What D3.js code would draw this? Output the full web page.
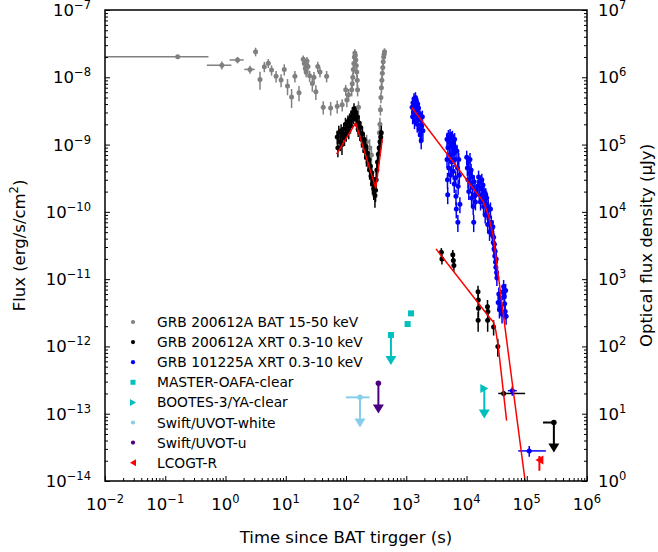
<!DOCTYPE html>
<html>
<head>
<meta charset="utf-8">
<script src="https://cdn.jsdelivr.net/npm/d3@7"></script>
<style>
  html, body { margin: 0; padding: 0; background: #fff; }
  svg { display: block; overflow: visible; }
</style>
</head>
<body>
<svg id="chart" width="658" height="552" viewBox="0 0 658 552" font-family="DejaVu Sans, sans-serif"></svg>
<script>
// GRB 200612A BAT 15-50 keV: [t, tErr, flux, fluxErr]
const batData = [
  [0.161, 0.36, 2.02e-8, 1.2e-9], [0.87, 0.38, 1.51e-8, 2.0e-9], [1.585, 0.42, 1.81e-8, 2.0e-9],
  [2.55, 0.51, 1.31e-8, 1.8e-9], [3.16, 0.23, 2.4e-8, 3.5e-9], [3.74, 0.23, 9.3e-9, 2.8e-9],
  [4.41, 0.28, 1.44e-8, 2.5e-9], [5.14, 0.32, 1.62e-8, 2.5e-9], [5.81, 0.32, 1.28e-8, 2.2e-9],
  [6.91, 0.41, 1.04e-8, 2e-9], [8.36, 0.46, 9.1e-9, 2e-9], [9.45, 0.55, 1.31e-8, 2.5e-9],
  [10.7, 0.64, 7.4e-9, 2e-9], [12.5, 0.73, 5.1e-9, 1.6e-9], [14.2, 0.82, 1.04e-8, 2e-9],
  [16.6, 0.91, 5.9e-9, 1.5e-9], [19.5, 0.55, 1.85e-8, 2.5e-9], [20.3, 0.45, 1.6e-8, 2.5e-9],
  [21.1, 0.45, 1.35e-8, 2.5e-9], [21.8, 0.45, 1.2e-8, 2e-9], [22.5, 0.45, 1.75e-8, 2.5e-9],
  [23.4, 0.55, 1.45e-8, 2e-9], [24.9, 0.72, 1.05e-8, 2e-9], [27.6, 0.9, 8.1e-9, 2e-9],
  [29.4, 0.9, 1.0e-8, 2e-9], [31.6, 1.1, 6.1e-9, 1.5e-9], [34.0, 1.1, 1.45e-8, 2.5e-9],
  [37.0, 1.35, 1.2e-8, 2e-9], [41.9, 1.8, 3.6e-9, 8e-10], [47.7, 2.25, 1.04e-8, 2e-9],
  [55.6, 2.7, 3.5e-9, 8e-10], [71.5, 3.6, 3.7e-9, 8e-10], [86.5, 3.6, 3.9e-9, 8e-10],
  [98.9, 2.7, 6.5e-9, 1.2e-9], [103.3, 2.7, 4.6e-9, 1e-9], [110.3, 2.7, 5.5e-9, 1.2e-9],
  [124.3, 1.3, 6.5e-9, 1.3e-9], [127.0, 1.3, 8e-9, 1.5e-9], [129.6, 1.3, 1.0e-8, 1.8e-9],
  [132.3, 1.3, 1.3e-8, 2e-9], [135.0, 1.3, 1.6e-8, 2.5e-9], [137.6, 1.3, 2.0e-8, 3e-9],
  [140.3, 1.3, 2.3e-8, 3e-9], [142.9, 1.3, 2.1e-8, 3e-9], [145.6, 1.3, 1.8e-8, 2.5e-9],
  [148.2, 1.3, 1.5e-8, 2.5e-9], [150.9, 1.3, 1.2e-8, 2e-9], [153.6, 1.3, 9e-9, 1.8e-9],
  [155.8, 1.3, 6.5e-9, 1.3e-9], [161.1, 1.8, 3.6e-9, 8e-10], [220, 2.6, 1.1e-9, 3e-10],
  [246.5, 2.6, 9e-10, 3e-10], [264, 2.6, 7e-10, 2.5e-10], [359, 1.8, 1.5e-9, 4e-10],
  [366, 1.8, 2.0e-9, 5e-10], [373, 1.8, 3.3e-9, 6e-10], [380, 1.8, 5e-9, 9e-10],
  [387, 1.8, 7e-9, 1.2e-9], [394, 1.8, 9e-9, 1.5e-9], [401, 1.8, 1.15e-8, 2e-9],
  [408, 1.8, 1.4e-8, 2.2e-9], [415, 1.8, 1.7e-8, 2.5e-9], [422, 1.8, 2.0e-8, 3e-9],
  [429, 1.8, 2.2e-8, 3e-9], [436, 1.8, 2.4e-8, 3e-9]
];

// GRB 200612A XRT 0.3-10 keV: [t, flux, fluxErr]
const xrtA = [
  [71.5, 1.3e-9, 3e-10], [73.3, 9e-10, 2.5e-10], [76.0, 1.5e-9, 4e-10], [80.4, 1.1e-9, 3e-10],
  [83.0, 1.6e-9, 4e-10], [85.7, 1.0e-9, 3e-10], [88.4, 1.4e-9, 3.5e-10], [91.8, 1.7e-9, 4e-10],
  [94.4, 1.25e-9, 3e-10], [98.0, 2.0e-9, 5e-10], [100.7, 1.45e-9, 3.5e-10], [104.2, 1.8e-9, 4.5e-10],
  [107.7, 2.2e-9, 5e-10], [111.2, 1.6e-9, 4e-10], [114.8, 2.4e-9, 5e-10], [118.3, 1.9e-9, 4.5e-10],
  [121.9, 2.6e-9, 6e-10], [125.2, 2.3e-9, 5e-10], [128.8, 3.0e-9, 6e-10], [132.3, 2.5e-9, 5e-10],
  [135.9, 3.4e-9, 7e-10], [139.4, 2.8e-9, 6e-10], [143.0, 3.1e-9, 6e-10], [146.5, 2.4e-9, 5e-10],
  [150.6, 2.0e-9, 4.5e-10], [155.0, 2.6e-9, 5.5e-10], [159.5, 1.7e-9, 4e-10], [164.8, 2.1e-9, 4.5e-10],
  [170.1, 1.5e-9, 3.5e-10], [175.4, 1.8e-9, 4e-10], [181.2, 1.2e-9, 3e-10], [187.4, 1.45e-9, 3.5e-10],
  [193.6, 1.0e-9, 2.5e-10], [199.8, 1.2e-9, 3e-10], [206.0, 8e-10, 2e-10], [211.7, 9.5e-10, 2.5e-10],
  [218.7, 6.5e-10, 1.8e-10], [225.8, 7.5e-10, 2e-10], [232.8, 5.5e-10, 1.5e-10], [239.9, 6e-10, 1.6e-10],
  [247.0, 4.2e-10, 1.2e-10], [253.4, 4.8e-10, 1.3e-10], [260.5, 3.4e-10, 1e-10], [267.5, 3.8e-10, 1.1e-10],
  [274.6, 2.6e-10, 8e-11], [281.6, 3e-10, 9e-11], [288.6, 2.2e-10, 7e-11], [295.3, 2.5e-10, 8e-11],
  [302.4, 1.75e-10, 6e-11], [309.4, 2.1e-10, 7e-11], [316.4, 3.0e-10, 9e-11], [325.2, 4.2e-10, 1.2e-10],
  [333.6, 5.5e-10, 1.5e-10], [344.2, 7.2e-10, 2e-10], [355.2, 9e-10, 2.5e-10], [366.6, 1.1e-9, 3e-10],
  [377.1, 1.3e-9, 3.5e-10], [385.4, 1.5e-9, 4e-10],
  [3825, 2.5e-11, 4e-12], [3910, 2.0e-11, 3.5e-12], [5920, 2.3e-11, 4e-12], [6050, 1.9e-11, 3.5e-12],
  [6175, 1.6e-11, 3e-12], [15530, 6.5e-12, 1.5e-12], [15700, 4.9e-12, 1.2e-12], [15780, 3.7e-12, 1e-12],
  [15610, 2.45e-12, 8e-13], [22300, 3.9e-12, 1e-12], [22630, 3.3e-12, 9e-13], [22460, 2.45e-12, 8e-13],
  [28190, 1.95e-12, 5e-13], [33120, 1.0e-12, 3e-13]
];
// XRT points with a time bin: [t, tLo, tHi, flux, fluxErr]
const xrtABinned = [[41300, 33700, 93960, 2.0e-13, 2e-14]];
// XRT upper limit: [t, tLo, flux]
const xrtALimit = [[282000, 186300, 7.4e-14]];

// GRB 101225A XRT 0.3-10 keV: [t, flux, fluxErr]
const xrtB = [
  [1250, 3.6e-9, 8e-10], [1276, 2.6e-9, 6e-10], [1293, 4.2e-9, 9e-10], [1319, 3.0e-9, 7e-10],
  [1344, 4.8e-9, 1e-9], [1370, 2.2e-9, 5e-10], [1396, 3.8e-9, 8e-10], [1421, 5.0e-9, 1e-9],
  [1447, 2.8e-9, 6e-10], [1473, 4.4e-9, 9e-10], [1498, 3.3e-9, 7e-10], [1524, 2.0e-9, 5e-10],
  [1549, 4.0e-9, 9e-10], [1575, 2.5e-9, 6e-10], [1600, 3.5e-9, 8e-10], [1634, 1.7e-9, 4e-10],
  [1668, 2.9e-9, 7e-10], [1702, 1.4e-9, 3.5e-10], [1737, 2.3e-9, 5e-10], [1771, 1.15e-9, 3e-10],
  [1805, 1.9e-9, 4.5e-10], [1848, 2.6e-9, 6e-10], [1890, 1.6e-9, 4e-10],
  [4750, 1.2e-9, 3e-10], [4750, 6e-10, 1.5e-10], [4835, 3e-10, 8e-11], [4877, 1.8e-10, 5e-11],
  [4919, 9e-10, 2e-10], [5003, 1.35e-9, 3e-10], [5088, 4.5e-10, 1.1e-10], [5172, 1.1e-9, 2.5e-10],
  [5256, 7e-10, 1.7e-10], [5340, 1.4e-9, 3e-10], [5425, 3.5e-10, 9e-11], [5509, 9.5e-10, 2.2e-10],
  [5593, 1.25e-9, 3e-10], [5677, 5.5e-10, 1.3e-10], [5761, 1.0e-9, 2.4e-10], [5845, 1.3e-9, 3e-10],
  [5929, 7.5e-10, 1.8e-10], [6013, 4e-10, 1e-10], [6097, 1.15e-9, 2.7e-10], [6181, 8.5e-10, 2e-10],
  [6265, 2.6e-10, 7e-11], [6349, 1.2e-9, 2.8e-10], [6433, 6e-10, 1.4e-10], [6517, 9e-10, 2.1e-10],
  [6600, 3.2e-10, 8e-11], [6684, 1.7e-10, 4.5e-11], [6768, 1.1e-10, 3e-11], [7187, 7e-11, 2e-11],
  [6935, 8e-10, 1.9e-10], [7103, 4.5e-10, 1.1e-10], [7270, 2.4e-10, 6e-11], [7438, 6e-10, 1.5e-10],
  [7605, 3.5e-10, 9e-11], [7772, 1.3e-10, 3.5e-11],
  [10080, 6.5e-10, 1.6e-10], [10330, 4.5e-10, 1.1e-10], [10580, 3e-10, 8e-11], [10750, 5.5e-10, 1.3e-10],
  [10920, 2e-10, 5e-11], [11170, 3.8e-10, 9e-11], [11420, 6e-10, 1.5e-10], [11670, 2.7e-10, 7e-11],
  [11920, 4.2e-10, 1e-10], [12170, 1.6e-10, 4e-11], [12420, 3.3e-10, 8e-11], [12670, 2.3e-10, 6e-11],
  [12920, 1.2e-10, 3e-11], [13170, 7e-11, 2e-11], [13420, 2.8e-10, 7e-11], [13750, 1.8e-10, 4.5e-11],
  [14080, 1.4e-10, 3.5e-11], [14410, 2.1e-10, 5e-11],
  [15450, 2.4e-10, 6e-11], [15860, 3.3e-10, 8e-11], [16280, 1.8e-10, 4.5e-11], [16690, 2.8e-10, 7e-11],
  [17110, 1.4e-10, 3.5e-11], [17520, 2.2e-10, 5.5e-11], [17940, 3.0e-10, 7e-11], [18350, 1.7e-10, 4e-11],
  [18770, 2.5e-10, 6e-11], [19180, 1.2e-10, 3e-11], [19590, 2.0e-10, 5e-11], [20010, 1.5e-10, 3.5e-11],
  [20420, 9e-11, 2.3e-11], [20840, 1.8e-10, 4.5e-11], [21250, 1.3e-10, 3.2e-11], [21660, 1.6e-10, 4e-11],
  [22080, 1.0e-10, 2.5e-11], [22490, 6.5e-11, 1.7e-11], [22900, 1.2e-10, 3e-11], [23310, 8.5e-11, 2.2e-11],
  [24140, 5e-11, 1.3e-11], [24970, 1.1e-10, 2.8e-11], [25790, 7e-11, 1.8e-11],
  [26230, 5.5e-11, 1.4e-11], [26970, 4.5e-11, 1.1e-11], [27390, 6e-11, 1.5e-11], [27800, 3.5e-11, 9e-12],
  [28210, 4.2e-11, 1e-11], [28630, 2.8e-11, 7e-12], [29040, 3.3e-11, 8e-12], [29450, 2.2e-11, 5.5e-12],
  [29860, 2.6e-11, 6.5e-12], [30280, 1.8e-11, 4.5e-12], [30690, 1.5e-11, 4e-12], [31100, 2.0e-11, 5e-12],
  [31510, 1.25e-11, 3e-12], [31930, 1.05e-11, 2.6e-12],
  [33530, 4.5e-12, 1.1e-12], [34350, 6e-12, 1.5e-12], [35180, 3.5e-12, 9e-13], [36410, 5.2e-12, 1.3e-12],
  [37640, 4e-12, 1e-12], [38880, 3.0e-12, 8e-13], [40110, 6.5e-12, 1.6e-12], [41340, 7.8e-12, 1.9e-12],
  [42160, 5.5e-12, 1.4e-12], [42980, 4.3e-12, 1.1e-12], [43800, 3.3e-12, 8e-13], [44620, 6.8e-12, 1.7e-12],
  [45440, 2.8e-12, 7e-13]
];
const xrtBBinned = [[57540, 48520, 68200, 2.2e-13, 3.5e-14], [110000, 72200, 207900, 2.8e-14, 5e-15]];

// power-law fits (red lines)
const fitEarlyT = [70.0, 144.5, 311.7, 400];
const fitEarlyF = [7.2e-10, 2.11e-9, 2.24e-10, 1.2e-9];
const fitLateAT = [3118, 24600, 27860, 30470, 33660, 46310];
const fitLateAF = [2.82e-11, 2.62e-12, 2.33e-12, 1.76e-12, 9.9e-13, 7.9e-14];
const fitBT = [1234, 18990, 23020, 27860, 46310, 93960];
const fitBF = [3.55e-9, 1.42e-10, 9e-11, 4.28e-11, 1.25e-12, 1e-14];

// optical, uJy
const masterPts = [[1200, 310], [1054, 215]];
const masterLimits = [[557, 148]];
const bootesLimits = [[19740, 23.8]];
const uvotWhiteLimits = [[170.6, 17.5, 99.7, 246.4]]; // t, flux, tLo, tHi
const uvotULimits = [[344.7, 28.3]];
const lcogtPts = [[162200, 2.05, 1.42, 2.35]]; // t, flux, lo, hi
const limitDrop = 2.4; // arrow length of upper limits, as a flux factor

const legendLabels = ['GRB 200612A BAT 15-50 keV', 'GRB 200612A XRT 0.3-10 keV', 'GRB 101225A XRT 0.3-10 keV',
  'MASTER-OAFA-clear', 'BOOTES-3/YA-clear', 'Swift/UVOT-white', 'Swift/UVOT-u', 'LCOGT-R'];

const cGray = '#808080', cBlue = '#0000ff', cCyan = '#00bfbf', cSky = '#87ceeb', cIndigo = '#4b0082', cRed = '#ff0000';

const svg = d3.select('#chart');
const margin = {top: 10, right: 71, bottom: 71, left: 105};
const innerWidth = 658 - margin.left - margin.right;
const innerHeight = 552 - margin.top - margin.bottom;
const g = svg.append('g').attr('transform', `translate(${margin.left},${margin.top})`);

const xScale = d3.scaleLog().domain([1e-2, 1e6]).range([0, innerWidth]);
const yScale = d3.scaleLog().domain([1e-14, 1e-7]).range([innerHeight, 0]);
const yScaleR = d3.scaleLog().domain([1, 1e7]).range([innerHeight, 0]);

svg.append('defs').append('clipPath').attr('id', 'clip')
  .append('rect').attr('width', innerWidth).attr('height', innerHeight);
const plot = g.append('g').attr('clip-path', 'url(#clip)');

const xPos = t => xScale(Math.max(t, 1e-3));

function errPoints(rows, color, r) {
  const grp = plot.append('g');
  rows.forEach(d => {
    const [t, te, f, fe] = d;
    if (te > 0) {
      grp.append('line').attr('x1', xPos(t - te)).attr('x2', xPos(t + te))
        .attr('y1', yScale(f)).attr('y2', yScale(f)).attr('stroke', color).attr('stroke-width', 1.5);
    }
    grp.append('line').attr('x1', xScale(t)).attr('x2', xScale(t))
      .attr('y1', yScale(f - fe)).attr('y2', yScale(f + fe)).attr('stroke', color).attr('stroke-width', 1.5);
  });
  grp.selectAll('circle').data(rows).enter().append('circle')
    .attr('cx', d => xScale(d[0])).attr('cy', d => yScale(d[2])).attr('r', r).attr('fill', color);
}

function binnedPoints(rows, color, r) {
  const grp = plot.append('g');
  rows.forEach(([t, lo, hi, f, fe]) => {
    grp.append('line').attr('x1', xScale(lo)).attr('x2', xScale(hi))
      .attr('y1', yScale(f)).attr('y2', yScale(f)).attr('stroke', color).attr('stroke-width', 1.5);
    grp.append('line').attr('x1', xScale(t)).attr('x2', xScale(t))
      .attr('y1', yScale(f - fe)).attr('y2', yScale(f + fe)).attr('stroke', color).attr('stroke-width', 1.5);
    grp.append('circle').attr('cx', xScale(t)).attr('cy', yScale(f)).attr('r', r).attr('fill', color);
  });
}

const sym = (type, size) => d3.symbol().type(type).size(size)();
const triDown = 'M-5.5,-4.5L5.5,-4.5L0,4.5Z';
const triRight = 'M-4,-4.5L4,0L-4,4.5Z';
const triLeft = 'M4,-4.5L-4,0L4,4.5Z';

// upper limit: marker at value, line down, arrow head
function limitMark(t, yPix, yEnd, color, marker) {
  const grp = plot.append('g');
  grp.append('line').attr('x1', xScale(t)).attr('x2', xScale(t)).attr('y1', yPix).attr('y2', yEnd)
    .attr('stroke', color).attr('stroke-width', 2);
  grp.append('path').attr('d', triDown).attr('fill', color)
    .attr('transform', `translate(${xScale(t)},${yEnd})`);
  grp.append('path').attr('d', marker).attr('fill', color)
    .attr('transform', `translate(${xScale(t)},${yPix})`);
  return grp;
}

errPoints(batData, cGray, 2.5);
errPoints(xrtA.map(d => [d[0], 0, d[1], d[2]]), '#000', 2.5);
binnedPoints(xrtABinned, '#000', 2.5);
xrtALimit.forEach(([t, lo, f]) => {
  plot.append('line').attr('x1', xScale(lo)).attr('x2', xScale(t))
    .attr('y1', yScale(f)).attr('y2', yScale(f)).attr('stroke', '#000').attr('stroke-width', 2);
  limitMark(t, yScale(f), yScale(f / limitDrop), '#000', sym(d3.symbolCircle, 24));
});
errPoints(xrtB.map(d => [d[0], 0, d[1], d[2]]), cBlue, 2.5);
binnedPoints(xrtBBinned, cBlue, 2.5);

// optical
masterPts.forEach(([t, f]) => {
  plot.append('rect').attr('x', xScale(t) - 3).attr('y', yScaleR(f) - 3)
    .attr('width', 6).attr('height', 6).attr('fill', cCyan);
});
masterLimits.forEach(([t, f]) => {
  limitMark(t, yScaleR(f), yScaleR(f / limitDrop), cCyan, 'M-3,-3H3V3H-3Z');
});
bootesLimits.forEach(([t, f]) => {
  limitMark(t, yScaleR(f), yScaleR(f / limitDrop), cCyan, triRight);
});
uvotWhiteLimits.forEach(([t, f, lo, hi]) => {
  plot.append('line').attr('x1', xScale(lo)).attr('x2', xScale(hi))
    .attr('y1', yScaleR(f)).attr('y2', yScaleR(f)).attr('stroke', cSky).attr('stroke-width', 2);
  limitMark(t, yScaleR(f), yScaleR(f / limitDrop), cSky, sym(d3.symbolCircle, 24));
});
uvotULimits.forEach(([t, f]) => {
  limitMark(t, yScaleR(f), yScaleR(f / limitDrop), cIndigo, sym(d3.symbolCircle, 24));
});
lcogtPts.forEach(([t, f, lo, hi]) => {
  plot.append('line').attr('x1', xScale(t)).attr('x2', xScale(t))
    .attr('y1', yScaleR(lo)).attr('y2', yScaleR(hi)).attr('stroke', cRed).attr('stroke-width', 2);
  plot.append('path').attr('d', triLeft).attr('fill', cRed)
    .attr('transform', `translate(${xScale(t)},${yScaleR(f)})`);
});

// fits
const fitLine = d3.line().x(d => xScale(d[0])).y(d => yScale(d[1]));
[[fitEarlyT, fitEarlyF], [fitLateAT, fitLateAF], [fitBT, fitBF]].forEach(([ts, fs]) => {
  plot.append('path').datum(ts.map((t, i) => [t, fs[i]])).attr('d', fitLine)
    .attr('fill', 'none').attr('stroke', cRed).attr('stroke-width', 1.5);
});

// axes
const decades = (lo, hi) => d3.range(lo, hi + 1).map(k => Math.pow(10, k));
const minors = (lo, hi) => d3.range(lo, hi).flatMap(k => d3.range(2, 10).map(m => m * Math.pow(10, k)));

function styleAxis(sel) {
  sel.select('.domain').remove();
  sel.selectAll('text').remove();
  sel.attr('font-family', null).attr('font-size', null);
  sel.selectAll('line').attr('stroke', '#000').attr('stroke-width', 1);
}
g.append('g').attr('transform', `translate(0,${innerHeight})`)
  .call(d3.axisBottom(xScale).tickValues(decades(-2, 6)).tickSize(-5)).call(styleAxis);
g.append('g').attr('transform', `translate(0,${innerHeight})`)
  .call(d3.axisBottom(xScale).tickValues(minors(-2, 6)).tickSize(-3)).call(styleAxis);
g.append('g').call(d3.axisLeft(yScale).tickValues(decades(-14, -7)).tickSize(-5)).call(styleAxis);
g.append('g').call(d3.axisLeft(yScale).tickValues(minors(-14, -7)).tickSize(-3)).call(styleAxis);
g.append('g').attr('transform', `translate(${innerWidth},0)`)
  .call(d3.axisRight(yScaleR).tickValues(decades(0, 7)).tickSize(-5)).call(styleAxis);
g.append('g').attr('transform', `translate(${innerWidth},0)`)
  .call(d3.axisRight(yScaleR).tickValues(minors(0, 7)).tickSize(-3)).call(styleAxis);

g.append('rect').attr('width', innerWidth).attr('height', innerHeight)
  .attr('fill', 'none').attr('stroke', '#000').attr('stroke-width', 1.5);

function powLabel(sel, v) {
  const e = Math.round(Math.log10(v));
  sel.append('tspan').text('10');
  sel.append('tspan').attr('dy', -7).attr('font-size', '11.5px').text(String(e).replace('-', '\u2212'));
}
decades(-2, 6).forEach(v => {
  g.append('text').attr('x', xScale(v)).attr('y', innerHeight + 29).attr('text-anchor', 'middle')
    .attr('font-size', '16.5px').call(powLabel, v);
});
decades(-14, -7).forEach(v => {
  g.append('text').attr('x', -14).attr('y', yScale(v) + 6).attr('text-anchor', 'end')
    .attr('font-size', '16.5px').call(powLabel, v);
});
decades(0, 7).forEach(v => {
  g.append('text').attr('x', innerWidth + 11).attr('y', yScaleR(v) + 6).attr('text-anchor', 'start')
    .attr('font-size', '16.5px').call(powLabel, v);
});

g.append('text').attr('x', innerWidth / 2).attr('y', innerHeight + 62).attr('text-anchor', 'middle')
  .attr('font-size', '16.5px').text('Time since BAT tirgger (s)');
const yl = g.append('text').attr('transform', `translate(-80,${innerHeight / 2}) rotate(-90)`)
  .attr('text-anchor', 'middle').attr('font-size', '16.5px');
yl.append('tspan').text('Flux (erg/s/cm');
yl.append('tspan').attr('dy', -7).attr('font-size', '11.5px').text('2');
yl.append('tspan').attr('dy', 7).text(')');
g.append('text').attr('transform', `translate(${innerWidth + 65},${innerHeight / 2}) rotate(-90)`)
  .attr('text-anchor', 'middle').attr('font-size', '16.5px').text('Optical flux density (\u03bcJy)');

// legend
const legendMarks = [
  {color: cGray, shape: 'circle'}, {color: '#000', shape: 'circle'}, {color: cBlue, shape: 'circle'},
  {color: cCyan, shape: 'square'}, {color: cCyan, shape: 'right'}, {color: cSky, shape: 'circle'},
  {color: cIndigo, shape: 'circle'}, {color: cRed, shape: 'left'}
];
const legend = g.append('g').attr('transform', 'translate(28,312)');
legendLabels.forEach((label, i) => {
  const row = legend.append('g').attr('transform', `translate(0,${i * 20.1})`);
  const m = legendMarks[i];
  const path = m.shape === 'circle' ? sym(d3.symbolCircle, 14)
    : m.shape === 'square' ? 'M-2.5,-2.5H2.5V2.5H-2.5Z'
    : m.shape === 'right' ? 'M-3,-3.5L3,0L-3,3.5Z' : 'M3,-3.5L-3,0L3,3.5Z';
  row.append('path').attr('d', path).attr('fill', m.color);
  row.append('text').attr('x', 24).attr('y', 5).attr('font-size', '13.8px').text(label);
});
</script>
</body>
</html>
